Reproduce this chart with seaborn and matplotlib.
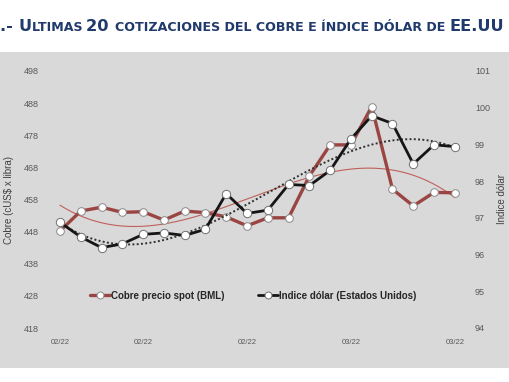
import numpy as np
import pandas as pd
import seaborn as sns
import matplotlib
matplotlib.use("Agg")
import matplotlib.pyplot as plt
from matplotlib.lines import Line2D

# ---- data ----
cobre = [448.2, 454.4, 455.6, 454.0, 454.2, 451.6, 454.4, 453.9, 452.6, 449.8,
         452.3, 452.3, 465.3, 475.0, 475.0, 486.9, 461.2, 456.0, 460.2, 460.1]
dolar = [96.88, 96.48, 96.19, 96.29, 96.55, 96.59, 96.52, 96.69, 97.66, 97.12,
         97.21, 97.91, 97.88, 98.29, 99.15, 99.78, 99.57, 98.47, 98.99, 98.94]
tick_pos = [0, 4, 9, 14, 19]
tick_labels = ["02/22", "02/22", "02/22", "03/22", "03/22"]
left_ticks = [418, 428, 438, 448, 458, 468, 478, 488, 498]
right_ticks = [94, 95, 96, 97, 98, 99, 100, 101]
title_parts = [(".- ", "L"), ("U", "L"), ("LTIMAS ", "S"), ("20 ", "L"),
               ("COTIZACIONES DEL COBRE E ÍNDICE DÓLAR DE ", "S"), ("EE.UU", "L")]

idx = np.arange(len(cobre))
df = pd.DataFrame({"i": idx, "cobre": cobre, "dolar": dolar})

sns.set_theme(style="white")
plt.rcParams["font.family"] = ["Liberation Sans", "DejaVu Sans"]

W, H = 510, 382
fig = plt.figure(figsize=(W / 100, H / 100), dpi=100)
fig.patch.set_facecolor("white")

# grey chart background band
bg = fig.add_axes([0, 1 - 368 / H, 1, (368 - 52) / H])
bg.set_facecolor("#d9d9d9")
bg.set_xticks([]); bg.set_yticks([])
for s in bg.spines.values():
    s.set_visible(False)
bg.set_zorder(0)

ax = fig.add_axes([45.4 / W, 1 - 328 / H, (469.4 - 45.4) / W, (328 - 71) / H])
ax.set_zorder(1)
ax.patch.set_alpha(0)
ax2 = ax.twinx()
ax2.patch.set_alpha(0)

red = "#9a4541"
blk = "#151515"

# trendlines (cubic fits of the data)
xs = np.linspace(0, 19, 200)
pc = np.polyfit(idx, cobre, 3)
pdl = np.polyfit(idx, dolar, 3)
ax.plot(xs, np.polyval(pc, xs), color="#c0605a", lw=0.8, zorder=2)
ax2.plot(xs, np.polyval(pdl, xs), color="#303030", lw=1.4, ls=(0, (1, 1.2)), zorder=2)

sns.lineplot(data=df, x="i", y="cobre", ax=ax, color=red, lw=2.4,
             marker="o", markersize=5.5, markerfacecolor="white",
             markeredgecolor="#8a8a8a", markeredgewidth=0.7, zorder=3)
sns.lineplot(data=df, x="i", y="dolar", ax=ax2, color=blk, lw=2.0,
             marker="o", markersize=6, markerfacecolor="white",
             markeredgecolor="#707070", markeredgewidth=0.7, zorder=3)

ax.set_xlim(-0.7, 19.7)
ax.set_ylim(418, 498)
ax2.set_ylim(94, 101)
ax.set_yticks(left_ticks)
ax2.set_yticks(right_ticks)
ax.set_xticks(tick_pos)
ax.set_xticklabels(tick_labels)
ax.set_xlabel("")
ax2.set_xlabel("")

tc = "#595959"
ax.tick_params(axis="y", labelsize=6.5, colors=tc, length=0, pad=5)
ax2.tick_params(axis="y", labelsize=6.5, colors=tc, length=0, pad=4)
ax.tick_params(axis="x", labelsize=5.5, colors=tc, length=0, pad=8)
for a in (ax, ax2):
    for s in a.spines.values():
        s.set_visible(False)

ax.set_ylabel("Cobre (cUS$ x libra)", fontsize=7, color="#404040", labelpad=7)
ax2.set_ylabel("Indice dólar", fontsize=7, color="#404040", labelpad=5)

handles = [
    Line2D([], [], color=red, lw=2.4, marker="o", markersize=5,
           markerfacecolor="white", markeredgecolor="#8a8a8a", markeredgewidth=0.7),
    Line2D([], [], color=blk, lw=2.0, marker="o", markersize=5,
           markerfacecolor="white", markeredgecolor="#707070", markeredgewidth=0.7),
]
leg = ax.legend(handles, ["Cobre precio spot (BML)", "Indice dólar (Estados Unidos)"],
                loc="center", bbox_to_anchor=(0.49, 0.125), ncol=2, frameon=False,
                prop={"size": 7, "weight": "bold"}, handlelength=2.0,
                handletextpad=0.1, columnspacing=3.5)
for t in leg.get_texts():
    t.set_color("#262626")

# title in small caps, built from pieces
fig.canvas.draw()
renderer = fig.canvas.get_renderer()
x = 0.0
ty = 1 - 31 / H
for txt, kind in title_parts:
    size = 11.7 if kind == "L" else 9.1
    t = fig.text(x, ty, txt, fontsize=size, fontweight="bold", color="#1f3a6b",
                 family=["DejaVu Sans"], va="baseline", ha="left")
    bb = t.get_window_extent(renderer)
    x = bb.x1 / W

fig.savefig("out.png", dpi=100)
